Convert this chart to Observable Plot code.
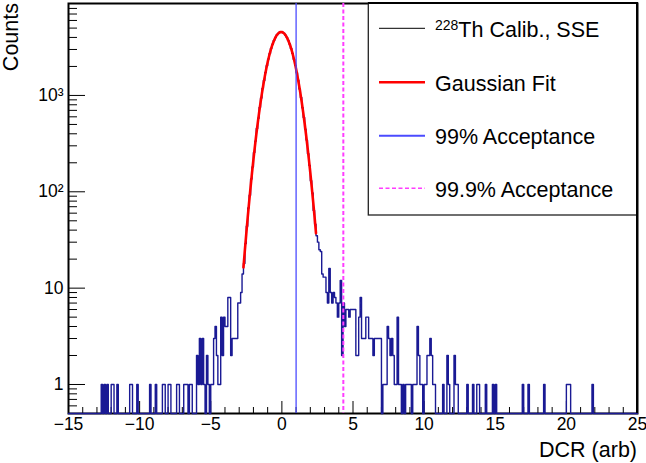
<!DOCTYPE html>
<html><head><meta charset="utf-8">
<script src="https://cdn.jsdelivr.net/npm/d3@7"></script>
<script src="https://cdn.jsdelivr.net/npm/@observablehq/plot@0.6"></script>
<style>
body{margin:0;background:#fff;}
#chart{width:646px;height:463px;}
</style></head><body><div id="chart"></div>
<script>
// Histogram: 0.1-wide bins from -15 to 25 (empty bins omitted)
const histMin = -15, histMax = 25, binWidth = 0.1;
const leftTailLow = [-12.7,-12.5,-12.3,-12.0,-11.9,-11.6,-10.7,-10.6,-10.2,-9.3,-8.9,-8.4,-8.3,-8.0,-7.9,-7.4,-7.3,-6.9,-6.8,-6.7,-6.5,-6.4,-6.0,-5.9,-5.8,-5.7,-5.6,-5.5,-5.3,-5.2,-5.0,-4.9,-4.8,-4.7,-4.6,-4.5,-4.4,-4.3,-4.2,-4.1,-4.0,-3.9,-3.8,-3.7,-3.6,-3.5,-3.4,-3.3,-3.2,-3.1,-3.0,-2.9,-2.8,-2.7];
const leftTailCounts = [1,1,1,1,1,1,1,1,1,1,1,1,1,1,1,1,1,1,1,1,1,1,2,1,3,1,3,1,2,1,1,1,3,4,2,1,1,5,2,5,4,4,8,8,2,3,3,3,3,7,7,9,14,18];
const coreStart = -2.6;
const coreCounts = [29,44,68,92,136,181,255,336,455,580,752,940,1182,1430,1731,2035,2384,2718,3080,3402,3731,3995,4240,4400,4520,4545,4508,4415,4226,4010,3716,3418,3065,2731,2370,2050,1719,1442,1168,952,744,590,446,344,248,188,130,97,64,46];
const rightTailLow = [2.4,2.5,2.6,2.7,2.8,2.9,3.0,3.1,3.2,3.3,3.4,3.5,3.6,3.7,3.8,3.9,4.0,4.1,4.2,4.3,4.4,4.5,4.6,4.7,4.8,4.9,5.0,5.1,5.2,5.3,5.4,5.5,5.6,5.7,5.8,5.9,6.0,6.1,6.2,6.3,6.4,6.5,6.6,6.7,6.8,6.9,7.1,7.2,7.3,7.4,7.5,7.6,7.7,7.8,7.9,8.0,8.1,8.2,8.3,8.5,8.7,8.8,8.9,9.0,9.2,9.3,9.4,9.5,9.6,9.7,9.8,10.0,10.1,10.2,10.3,10.4,10.5,10.6,10.7,11.3,11.6,11.7,12.1,12.2,12.3,13.0,13.4,13.7,13.8,14.3,14.8,15.0,16.9,17.3,18.4,20.0,20.1,20.2,21.8];
const rightTailCounts = [35,30,25,24,14,13,13,9,7,16,9,7,9,8,7,5,7,12,2,7,4,6,6,5,6,6,6,6,2,2,5,8,3,3,3,5,5,3,3,3,2,3,3,3,3,3,1,1,1,4,3,2,3,2,1,1,5,1,1,1,1,1,1,1,1,1,1,4,2,1,1,1,1,2,2,3,2,1,1,1,2,1,2,1,1,1,1,1,1,1,1,1,1,1,1,1,1,1,1];

// Gaussian fit curve
const fitX = [-2.7,-2.6,-2.5,-2.4,-2.3,-2.2,-2.1,-2.0,-1.9,-1.8,-1.7,-1.6,-1.5,-1.4,-1.3,-1.2,-1.1,-1.0,-0.9,-0.8,-0.7,-0.6,-0.5,-0.4,-0.3,-0.2,-0.1,0.0,0.1,0.2,0.3,0.4,0.5,0.6,0.7,0.8,0.9,1.0,1.1,1.2,1.3,1.4,1.5,1.6,1.7,1.8,1.9,2.0,2.1,2.2,2.3,2.4];
const fitY = [16.4,24.9,37.1,54.5,78.8,112,157,216,293,391,514,664,844,1057,1301,1577,1881,2208,2551,2899,3243,3571,3869,4125,4328,4469,4541,4541,4469,4328,4125,3869,3571,3243,2899,2551,2208,1881,1577,1301,1057,844,664,514,391,293,216,157,112,78.8,54.5,37.1];

const cut99 = 1.0, cut999 = 4.32;

const xMajorTicks = [-15,-10,-5,0,5,10,15,20,25];
const xMinorTicks = [-14,-13,-12,-11,-9,-8,-7,-6,-4,-3,-2,-1,1,2,3,4,6,7,8,9,11,12,13,14,16,17,18,19,21,22,23,24];
const yMajorTicks = [1,10,100,1000];
const yMajorLabels = ["1","10","10²","10³"];
const yMinorTicks = [0.6,0.7,0.8,0.9,2,3,4,5,6,7,8,9,20,30,40,50,60,70,80,90,200,300,400,500,600,700,800,900,2000,3000,4000,5000,6000,7000,8000];
const yDomain = [0.5, 9000];

const legendLabels = ["Th Calib., SSE","Gaussian Fit","99% Acceptance","99.9% Acceptance"];

// build full bin table
const nBins = Math.round((histMax - histMin) / binWidth);
const counts = new Array(nBins).fill(0);
const put = (lo, c) => { counts[Math.round((lo - histMin) / binWidth)] = c; };
leftTailLow.forEach((lo, i) => put(lo, leftTailCounts[i]));
coreCounts.forEach((c, i) => put(coreStart + i * binWidth, c));
rightTailLow.forEach((lo, i) => put(lo, rightTailCounts[i]));
const steps = counts.map((c, i) => ({x: +(histMin + i * binWidth).toFixed(1), y: Math.max(c, yDomain[0])}));
steps.push({x: histMax, y: steps[steps.length - 1].y});
const fit = fitX.map((x, i) => ({x, y: fitY[i]}));

const histColor = "#1a1a94", fitColor = "#ff0000", c99 = "#4b4bff", c999 = "#ff3dff";
const font = "'Liberation Sans', Arial, Helvetica, sans-serif";

const chart = Plot.plot({
  width: 646, height: 463,
  marginLeft: 68, marginRight: 9, marginTop: 3, marginBottom: 50,
  style: {fontFamily: font, fontSize: "17px", color: "black", background: "white"},
  x: {domain: [histMin, histMax]},
  y: {type: "log", domain: yDomain},
  marks: [
    Plot.axisX(xMinorTicks, {tickSize: -6, tickFormat: () => "", label: null}),
    Plot.axisX(xMajorTicks, {tickSize: -12, tickPadding: 16, tickFormat: d => d < 0 ? "\u2212" + Math.abs(d) : String(d), label: null, fontSize: 17.5}),
    Plot.axisY(yMinorTicks, {tickSize: -9, tickFormat: () => "", label: null}),
    Plot.axisY(yMajorTicks, {tickSize: -17, tickPadding: 22, tickFormat: d => yMajorLabels[yMajorTicks.indexOf(d)], label: null, fontSize: 17.5}),
    Plot.frame({stroke: "black", strokeWidth: 2}),
    Plot.line(steps, {x: "x", y: "y", curve: "step-after", stroke: histColor, strokeWidth: 1.4}),
    Plot.line(fit, {x: "x", y: "y", curve: "natural", stroke: fitColor, strokeWidth: 2.6}),
    Plot.ruleX([cut99], {stroke: c99, strokeWidth: 1.3}),
    Plot.ruleX([cut999], {stroke: c999, strokeWidth: 2, strokeDasharray: "4,2.5"})
  ]
});
document.getElementById("chart").appendChild(chart);

const svg = d3.select(chart);
svg.append("text").attr("transform", "translate(18,3) rotate(-90)")
  .attr("text-anchor", "end").attr("font-size", 21.5).attr("font-family", font).attr("fill", "black").text("Counts");
svg.append("text").attr("x", 637).attr("y", 457)
  .attr("text-anchor", "end").attr("font-size", 21.5).attr("font-family", font).attr("fill", "black").text("DCR (arb)");

// legend
const lg = svg.append("g");
lg.append("rect").attr("x", 368.3).attr("y", 3).attr("width", 268.4).attr("height", 212)
  .attr("fill", "white").attr("stroke", "#222").attr("stroke-width", 1.3);
const rowsY = [28.3, 82.3, 135.7, 188.3];
const styles = [
  {stroke: "#000", w: 1, dash: null},
  {stroke: fitColor, w: 2.6, dash: null},
  {stroke: c99, w: 2, dash: null},
  {stroke: c999, w: 1.5, dash: "4,2.5"}
];
rowsY.forEach((y, i) => {
  const l = lg.append("line").attr("x1", 379).attr("x2", 425).attr("y1", y).attr("y2", y)
    .attr("stroke", styles[i].stroke).attr("stroke-width", styles[i].w);
  if (styles[i].dash) l.attr("stroke-dasharray", styles[i].dash);
  const t = lg.append("text").attr("x", 435).attr("y", y + 8.5).attr("font-size", 21.5)
    .attr("text-anchor", "start").attr("font-family", font).attr("fill", "black");
  if (i === 0) {
    t.append("tspan").attr("font-size", 14).attr("dy", -7).text("228");
    t.append("tspan").attr("dy", 7).text(legendLabels[0]);
  } else {
    t.text(legendLabels[i]);
  }
});
// frame edges drawn on top of legend box
svg.append("line").attr("x1", 637).attr("x2", 637).attr("y1", 3).attr("y2", 413).attr("stroke", "black").attr("stroke-width", 2);
svg.append("line").attr("x1", 368).attr("x2", 638).attr("y1", 3).attr("y2", 3).attr("stroke", "black").attr("stroke-width", 2);
</script></body></html>
